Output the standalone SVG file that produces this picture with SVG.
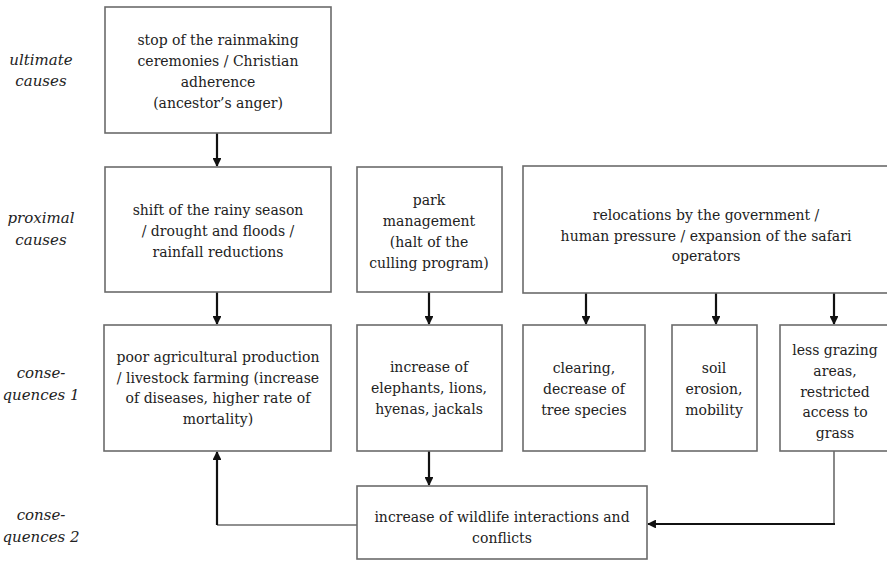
<svg xmlns="http://www.w3.org/2000/svg" width="887" height="561" viewBox="0 0 887 561">
  <style>
    .box { fill: #ffffff; stroke: #6b6b6b; stroke-width: 1.6; }
    .t { font-family: 'DejaVu Serif', serif; font-size: 14px; fill: #222222; text-anchor: middle; }
    .lbl { font-family: 'DejaVu Serif', serif; font-size: 15px; font-style: italic; fill: #222222; text-anchor: middle; }
    .arr { fill: none; stroke: #111111; stroke-width: 2.2; marker-end: url(#head); }
    .thin { fill: none; stroke: #6b6b6b; stroke-width: 1.6; }
  </style>
  <defs>
    <marker id="head" viewBox="0 0 10 10" refX="9" refY="5" markerWidth="4" markerHeight="4" orient="auto" markerUnits="strokeWidth">
      <path d="M0,0 L10,5 L0,10 z" fill="#111111"/>
    </marker>
  </defs>
  <rect width="887" height="561" fill="#ffffff"/>

  <!-- row labels -->
  <g id="row-labels">
    <text class="lbl" x="41" y="65">ultimate</text>
    <text class="lbl" x="41" y="86">causes</text>
    <text class="lbl" x="41" y="223">proximal</text>
    <text class="lbl" x="41" y="245">causes</text>
    <text class="lbl" x="41" y="378">conse-</text>
    <text class="lbl" x="41" y="400">quences 1</text>
    <text class="lbl" x="41" y="520">conse-</text>
    <text class="lbl" x="41" y="542">quences 2</text>
  </g>

  <!-- connectors -->
  <g id="connectors">
    <path class="arr" d="M217,133 V166"/>
    <path class="arr" d="M217,292 V324"/>
    <path class="arr" d="M429,292 V324"/>
    <path class="arr" d="M429,451 V485"/>
    <path class="arr" d="M586,293 V324"/>
    <path class="arr" d="M716,293 V324"/>
    <path class="arr" d="M834,293 V324"/>
    <!-- wildlife conflicts back to agriculture -->
    <path class="thin" d="M357,525 H217"/>
    <path class="arr" d="M217,525 V452"/>
    <!-- grazing areas to wildlife conflicts -->
    <path class="thin" d="M834,451 V524"/>
    <path class="arr" d="M835,524 H648"/>
  </g>

  <g id="ultimate">
    <rect class="box" x="105" y="7" width="226" height="126"/>
    <text class="t" x="218" y="45">stop of the rainmaking</text>
    <text class="t" x="218" y="66">ceremonies / Christian</text>
    <text class="t" x="218" y="87">adherence</text>
    <text class="t" x="218" y="108">(ancestor’s anger)</text>
  </g>

  <g id="rainy-season">
    <rect class="box" x="105" y="167" width="226" height="125"/>
    <text class="t" x="218" y="215">shift of the rainy season</text>
    <text class="t" x="218" y="236">/ drought and floods /</text>
    <text class="t" x="218" y="257">rainfall reductions</text>
  </g>

  <g id="park-management">
    <rect class="box" x="357" y="167" width="145" height="125"/>
    <text class="t" x="429" y="205">park</text>
    <text class="t" x="429" y="226">management</text>
    <text class="t" x="429" y="247">(halt of the</text>
    <text class="t" x="429" y="268">culling program)</text>
  </g>

  <g id="relocations">
    <rect class="box" x="523" y="166" width="380" height="127"/>
    <text class="t" x="706" y="220">relocations by the government /</text>
    <text class="t" x="706" y="241">human pressure / expansion of the safari</text>
    <text class="t" x="706" y="261">operators</text>
  </g>

  <g id="agriculture">
    <rect class="box" x="104" y="325" width="227" height="126"/>
    <text class="t" x="218" y="362">poor agricultural production</text>
    <text class="t" x="218" y="383">/ livestock farming (increase</text>
    <text class="t" x="218" y="403">of diseases, higher rate of</text>
    <text class="t" x="218" y="424">mortality)</text>
  </g>

  <g id="wildlife-increase">
    <rect class="box" x="357" y="325" width="145" height="126"/>
    <text class="t" x="429" y="372">increase of</text>
    <text class="t" x="429" y="393">elephants, lions,</text>
    <text class="t" x="429" y="414">hyenas, jackals</text>
  </g>

  <g id="clearing">
    <rect class="box" x="523" y="325" width="122" height="126"/>
    <text class="t" x="584" y="373">clearing,</text>
    <text class="t" x="584" y="394">decrease of</text>
    <text class="t" x="584" y="415">tree species</text>
  </g>

  <g id="soil-erosion">
    <rect class="box" x="672" y="325" width="85" height="126"/>
    <text class="t" x="714" y="373">soil</text>
    <text class="t" x="714" y="394">erosion,</text>
    <text class="t" x="714" y="415">mobility</text>
  </g>

  <g id="grazing">
    <rect class="box" x="780" y="325" width="120" height="126"/>
    <text class="t" x="835" y="355">less grazing</text>
    <text class="t" x="835" y="376">areas,</text>
    <text class="t" x="835" y="397">restricted</text>
    <text class="t" x="835" y="417">access to</text>
    <text class="t" x="835" y="438">grass</text>
  </g>

  <g id="conflicts">
    <rect class="box" x="357" y="486" width="290" height="73"/>
    <text class="t" x="502" y="522">increase of wildlife interactions and</text>
    <text class="t" x="502" y="543">conflicts</text>
  </g>
</svg>
